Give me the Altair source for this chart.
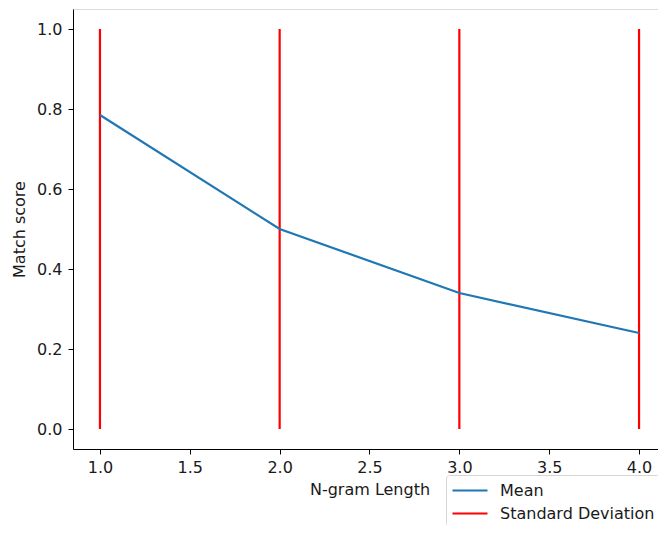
import altair as alt
import pandas as pd

ngram = [1.0, 2.0, 3.0, 4.0]
mean_score = [0.785, 0.50, 0.34, 0.24]
std_lower = [0.0, 0.0, 0.0, 0.0]
std_upper = [1.0, 1.0, 1.0, 1.0]

mean_df = pd.DataFrame({"n": ngram, "v": mean_score, "series": ["Mean"] * len(ngram)})
std_df = pd.DataFrame({"n": ngram, "lo": std_lower, "hi": std_upper,
                       "series": ["Standard Deviation"] * len(ngram)})

FONT = "DejaVu Sans"
FS = 16
TXT = "#1a1a1a"
color = alt.Color("series:N",
                  scale=alt.Scale(domain=["Mean", "Standard Deviation"], range=["#1f77b4", "#ff0000"]),
                  legend=alt.Legend(title=None, orient="none", legendX=373, legendY=466,
                                    symbolType="M-0.9,0H2.6", symbolSize=400, symbolStrokeWidth=2.2,
                                    labelFontSize=FS, labelFont=FONT, labelColor=TXT,
                                    fillColor="white", strokeColor="#d6d6d6", cornerRadius=3,
                                    padding=4, rowPadding=3, labelOffset=27))

xscale = alt.Scale(domain=[0.85, 4.15], nice=False, zero=False)
yscale = alt.Scale(domain=[-0.05, 1.05], nice=False, zero=False)

common = dict(grid=False, tickColor="black", domainColor="black", tickSize=5,
              labelFontSize=FS, titleFontSize=FS, labelFont=FONT, titleFont=FONT,
              labelColor=TXT, titleColor=TXT, titleFontWeight="normal",
              labelFlush=False, format=".1f")
xax = alt.Axis(title="N-gram Length", values=[1.0, 1.5, 2.0, 2.5, 3.0, 3.5, 4.0],
               labelPadding=5, titlePadding=6, **common)
yax = alt.Axis(title="Match score", values=[0.0, 0.2, 0.4, 0.6, 0.8, 1.0],
               labelPadding=6, titlePadding=9, **common)

rules = alt.Chart(std_df).mark_rule(strokeWidth=2.2).encode(
    x=alt.X("n:Q", scale=xscale, axis=xax),
    y=alt.Y("lo:Q", scale=yscale, axis=yax),
    y2="hi:Q",
    color=color,
)

line = alt.Chart(mean_df).mark_line(strokeWidth=2.2).encode(
    x=alt.X("n:Q", scale=xscale),
    y=alt.Y("v:Q", scale=yscale),
    color=color,
)

chart = alt.layer(rules, line).properties(
    width=593, height=440,
    autosize="none",
    padding={"left": 65, "top": 1, "right": -8, "bottom": 76},
).configure_view(stroke="black", strokeWidth=1).configure(background="white")

chart.save("out.html", embed_options={"renderer": "svg", "actions": False})
